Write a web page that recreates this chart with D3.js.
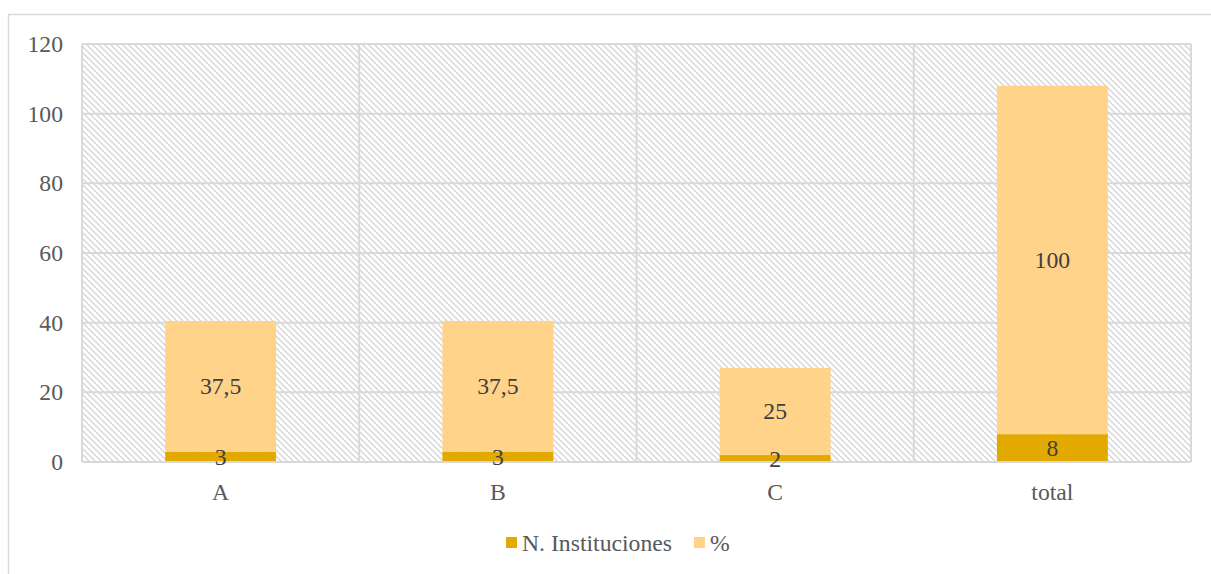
<!DOCTYPE html>
<html><head><meta charset="utf-8">
<script src="https://cdn.jsdelivr.net/npm/d3@7"></script>
</head><body style="margin:0">
<svg id="c" width="1211" height="574"></svg>
<script>
const categories = ["A","B","C","total"];
const seriesNames = ["N. Instituciones","%"];
const nInstituciones = [3,3,2,8];
const porcentaje = [37.5,37.5,25,100];
const pctLabels = ["37,5","37,5","25","100"];
const yTicks = [0,20,40,60,80,100,120];
const colors = ["#E2AA00","#FFD38A"];

const svg = d3.select("#c");
const L=82, R=1191, T=44, B=462;
const FS = "23.7px";
const FF = '"Liberation Serif", "Times New Roman", Tinos';

function txt(x0, y0, s, anchor, fill){
  return svg.append("text").attr("x",x0).attr("y",y0).attr("text-anchor",anchor)
    .attr("fill",fill).attr("font-family","Liberation Serif").attr("font-size",23.7)
    .style("font-family",FF,"important").style("font-size",FS,"important").text(s);
}

svg.append("rect").attr("x",8.5).attr("y",14.5).attr("width",1220).attr("height",600)
  .attr("fill","#fff").attr("stroke","#d9d9d9").attr("stroke-width",1.5);

const defs = svg.append("defs");
const pat = defs.append("pattern").attr("id","hatch").attr("patternUnits","userSpaceOnUse")
  .attr("width",6).attr("height",6);
pat.append("rect").attr("width",6).attr("height",6).attr("fill","#fff");
pat.append("path").attr("d","M-1,-1 L7,7 M-4,2 L1,7 M2,-4 L7,1").attr("stroke","#d6d6d6").attr("stroke-width",1.4);

const x = d3.scaleBand().domain(categories).range([L,R]).paddingInner(0).paddingOuter(0);
const y = d3.scaleLinear().domain([0,120]).range([B,T]);

svg.append("rect").attr("x",L).attr("y",T).attr("width",R-L).attr("height",B-T).attr("fill","url(#hatch)");

svg.append("g").selectAll("line").data(yTicks).join("line")
  .attr("x1",L).attr("x2",R).attr("y1",d=>y(d)).attr("y2",d=>y(d))
  .attr("stroke","#d9d9d9").attr("stroke-width",2);
const bounds = categories.map(c=>x(c)).concat([R]);
svg.append("g").selectAll("line").data(bounds).join("line")
  .attr("x1",d=>d).attr("x2",d=>d).attr("y1",T).attr("y2",B)
  .attr("stroke","#d9d9d9").attr("stroke-width",2);

yTicks.forEach(t=> txt(63, y(t)+8, t, "end", "#595959"));
categories.forEach(c=> txt(x(c)+x.bandwidth()/2, 500, c, "middle", "#595959"));

const data = categories.map((c,i)=>({cat:c, n:nInstituciones[i], p:porcentaje[i], pl:pctLabels[i]}));
const stack = d3.stack().keys(["n","p"])(data);
const bw = x.bandwidth()*0.4;
stack.forEach((s,si)=>{
  svg.append("g").selectAll("rect").data(s).join("rect")
    .attr("x",d=>x(d.data.cat)+(x.bandwidth()-bw)/2).attr("width",bw)
    .attr("y",d=>y(d[1])).attr("height",d=>y(d[0])-y(d[1]))
    .attr("fill",colors[si]);
});
svg.append("line").attr("x1",L).attr("x2",R).attr("y1",B).attr("y2",B).attr("stroke","#d9d9d9").attr("stroke-width",2);
stack.forEach((s,si)=>{
  s.forEach(d=> txt(x(d.data.cat)+x.bandwidth()/2, y((d[0]+d[1])/2)+8, si===0 ? d.data.n : d.data.pl, "middle", "#404040"));
});

const items = [{name:seriesNames[0],c:colors[0],x:506},{name:seriesNames[1],c:colors[1],x:694}];
items.forEach(it=>{
  svg.append("rect").attr("x",it.x).attr("y",537).attr("width",11).attr("height",11).attr("fill",it.c);
  txt(it.x+16, 551, it.name, "start", "#595959");
});
</script>
</body></html>
